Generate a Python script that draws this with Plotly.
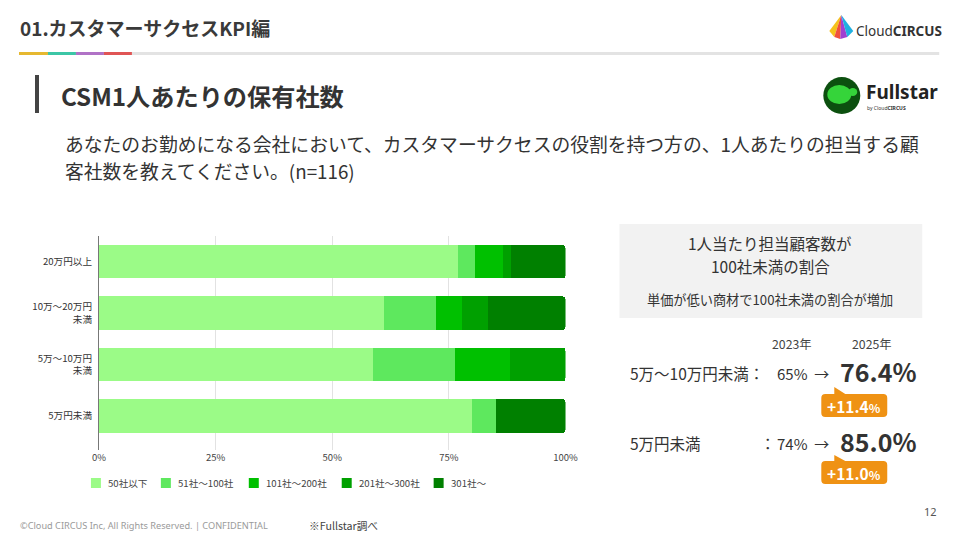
import plotly.graph_objects as go

W, H = 960, 540
FONT = "Noto Sans CJK JP"

# ---------------- data ----------------
categories = ["20万円以上", "10万〜20万円<br>未満", "5万〜10万円<br>未満", "5万円未満"]
series_names = ["50社以下", "51社〜100社", "101社〜200社", "201社〜300社", "301社〜"]
s_50 = [76.9, 61.1, 58.8, 80.0]
s_100 = [3.8, 11.1, 17.6, 5.0]
s_200 = [6.0, 5.6, 11.8, 0.0]
s_300 = [1.7, 5.6, 11.8, 0.0]
s_301 = [11.6, 16.6, 0.0, 15.0]
series_values = [s_50, s_100, s_200, s_300, s_301]
series_colors = ["#9bfb87", "#5ee85e", "#00c000", "#00a000", "#008000"]
x_ticks = [0, 25, 50, 75, 100]

kpi_rows = ["5万〜10万円未満", "5万円未満"]
kpi_2023 = ["65%", "74%"]
kpi_2025 = ["76.4%", "85.0%"]
kpi_diff = ["+11.4", "+11.0"]

# legend item left edges (layout only)
legend_x = [91, 161, 249, 342, 434]


def px(x):
    # target pixel -> paper fraction (compensates horizontal capture scaling)
    return (x - 7.0) / 0.98 / W


def py(y):
    return 1 - y / H


fig = go.Figure()
for name, vals, col in zip(series_names, series_values, series_colors):
    fig.add_trace(go.Bar(
        y=categories, x=vals, name=name, orientation="h",
        marker=dict(color=col, line=dict(width=0)),
        hoverinfo="skip",
    ))

shapes = []
ann = []


def text(x, y, t, size, color="#333", bold=False, xanchor="left", yanchor="middle", family=FONT):
    if bold:
        t = "<b>" + t + "</b>"
    ann.append(dict(x=px(x), y=py(y), xref="paper", yref="paper", text=t, showarrow=False,
                    xanchor=xanchor, yanchor=yanchor, borderpad=0,
                    font=dict(family=family, size=size, color=color)))


def rect(x0, y0, x1, y1, color, layer="below"):
    shapes.append(dict(type="rect", xref="paper", yref="paper", x0=px(x0), x1=px(x1),
                       y0=py(y1), y1=py(y0), fillcolor=color, line=dict(width=0), layer=layer))


def path(pts, color, layer="above"):
    d = "M" + " L".join(f"{px(a):.5f},{py(b):.5f}" for a, b in pts) + " Z"
    shapes.append(dict(type="path", xref="paper", yref="paper", path=d, fillcolor=color,
                       line=dict(width=0), layer=layer))


def rrect_path(x0, y0, x1, y1, r, notch=None):
    P = lambda a, b: f"{px(a):.5f},{py(b):.5f}"
    d = f"M{P(x0 + r, y0)} "
    if notch:
        nx0, nx1, ny = notch
        d += f"L{P(nx0, y0)} L{P(nx0, ny)} L{P(nx1, y0)} "
    d += f"L{P(x1 - r, y0)} Q{P(x1, y0)} {P(x1, y0 + r)} "
    d += f"L{P(x1, y1 - r)} Q{P(x1, y1)} {P(x1 - r, y1)} "
    d += f"L{P(x0 + r, y1)} Q{P(x0, y1)} {P(x0, y1 - r)} "
    d += f"L{P(x0, y0 + r)} Q{P(x0, y0)} {P(x0 + r, y0)} Z"
    return d


# ---------------- header ----------------
text(19, 27, "01.カスタマーサクセスKPI編", 19, "#3a3a3a", bold=True)
rect(19, 52, 940, 55, "#e3e3e3")
for (a, b), c in zip([(19, 48), (48, 76), (76, 104), (104, 132)],
                     ["#e6b830", "#3cc6a6", "#b072c6", "#e05555"]):
    rect(a, 52, b, 55, c)

# Cloud CIRCUS logo
apex = (842, 15)
path([apex, (830, 31), (835, 37)], "#f5c21b")
path([apex, (835, 37), (841, 39)], "#f0503c")
path([apex, (841, 39), (848, 37)], "#a040d0")
path([apex, (848, 37), (854, 31)], "#20b0e0")
text(856, 31, "Cloud<b>CIRCUS</b>", 13.5, "#333", family="Noto Sans")

# section title
rect(35, 75, 39, 113, "#444444")
text(60, 95, "CSM1人あたりの保有社数", 24.2, "#333", bold=True)

# Fullstar logo
shapes.append(dict(type="circle", xref="paper", yref="paper", x0=px(824), x1=px(861),
                   y0=py(114), y1=py(77), fillcolor="#0c500f", line=dict(width=0)))
shapes.append(dict(type="circle", xref="paper", yref="paper", x0=px(828), x1=px(852),
                   y0=py(104), y1=py(85), fillcolor="#35d43a", line=dict(width=0)))
shapes.append(dict(type="circle", xref="paper", yref="paper", x0=px(849), x1=px(858),
                   y0=py(96), y1=py(88), fillcolor="#35d43a", line=dict(width=0)))
text(866, 92, "Fullstar", 19, "#222", bold=True, family="Noto Sans")
text(867, 108, "by Cloud<b>CIRCUS</b>", 5, "#333", family="Noto Sans")

# question
text(64, 143, "あなたのお勤めになる会社において、カスタマーサクセスの役割を持つ方の、1人あたりの担当する顧", 18.8, "#333")
text(64, 170, "客社数を教えてください。(n=116)", 18.8, "#333")

# ---------------- manual legend ----------------
for lx, name, col in zip(legend_x, series_names, series_colors):
    rect(lx, 478, lx + 10, 488, col, layer="above")
    text(lx + 16, 483, name, 9.6, "#444")

# ---------------- right panel ----------------
rect(620, 224, 923, 318, "#f2f2f2")
text(771, 243, "1人当たり担当顧客数が", 15.5, "#333", xanchor="center")
text(771, 266, "100社未満の割合", 15.5, "#333", xanchor="center")
text(771, 299, "単価が低い商材で100社未満の割合が増加", 13.2, "#333", xanchor="center")

text(793, 344, "2023年", 12.3, "#444", xanchor="center")
text(873, 344, "2025年", 12.3, "#444", xanchor="center")

row_y = [373, 443]
badge_y = [(394, 417, 387), (461, 484, 455)]
for i in range(2):
    y = row_y[i]
    if i == 0:
        text(630, y, kpi_rows[i] + "：", 15.5, "#333")
    else:
        text(630, y, kpi_rows[i], 15.5, "#333")
        text(760, y, "：", 15.5, "#333")
    text(777, y, kpi_2023[i] + "  →", 15, "#333")
    text(840, y - 2, kpi_2025[i], 25, "#333", bold=True)
    b0, b1, bn = badge_y[i]
    shapes.append(dict(type="path", xref="paper", yref="paper",
                       path=rrect_path(822, b0, 888, b1, 4, notch=(835, 846, bn)),
                       fillcolor="#ef9214", line=dict(width=0)))
    text(855, (b0 + b1) / 2 + 0.5,
         kpi_diff[i] + "<span style='font-size:12px'>%</span>", 15.5, "white",
         bold=True, xanchor="center")

# ---------------- footer ----------------
text(19, 525, "©Cloud CIRCUS Inc, All Rights Reserved. | CONFIDENTIAL", 9.2, "#9a9a9a", family="Noto Sans")
text(308, 525, "※Fullstar調べ", 10.7, "#444")
text(931, 511, "12", 11, "#555", xanchor="center", family="Noto Sans")

fig.update_layout(
    width=W, height=H,
    margin=dict(l=0, r=0, t=0, b=0),
    paper_bgcolor="white", plot_bgcolor="white",
    barmode="stack", bargap=0.35, barcornerradius=3,
    font=dict(family=FONT, size=9, color="#444"),
    showlegend=False,
    xaxis=dict(domain=[px(99), px(566)], range=[0, 100], tickvals=x_ticks,
               ticktext=[f"{v}%" for v in x_ticks], showgrid=True, gridcolor="#e2e2e2",
               gridwidth=1, zeroline=False, showline=False, ticks="",
               tickfont=dict(size=9.5, color="#444"), fixedrange=True),
    yaxis=dict(domain=[py(450), py(236)], categoryorder="array", categoryarray=categories,
               range=[3.66, -0.5], showgrid=False, zeroline=False, showline=True,
               linecolor="#777", linewidth=1, ticks="", ticklabelstandoff=4,
               tickfont=dict(size=9.6, color="#333"), fixedrange=True),
    shapes=shapes, annotations=ann,
)

fig.write_html("out.html")
